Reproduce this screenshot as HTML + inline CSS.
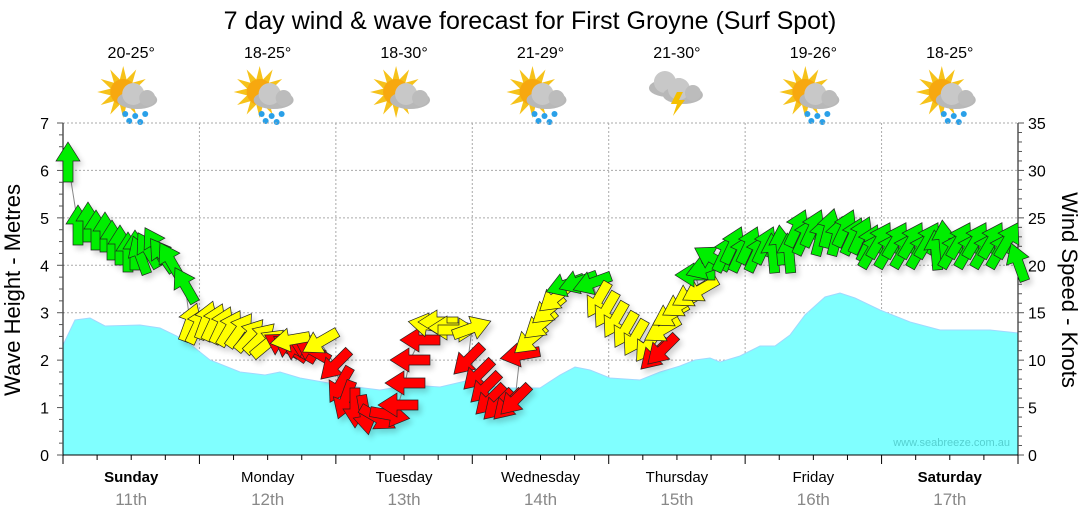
<!DOCTYPE html>
<html><head><meta charset="utf-8"><style>
body{margin:0;background:#fff;}
svg text{font-family:"Liberation Sans",sans-serif;}
</style></head><body>
<svg id="s" width="1080" height="522" viewBox="0 0 1080 522" xmlns="http://www.w3.org/2000/svg">
<defs>
<filter id="sh" x="-50%" y="-50%" width="200%" height="200%"><feGaussianBlur in="SourceAlpha" stdDeviation="3"/><feOffset dx="3" dy="4"/><feComponentTransfer><feFuncA type="linear" slope="0.18"/></feComponentTransfer><feMerge><feMergeNode/><feMergeNode in="SourceGraphic"/></feMerge></filter>
<g id="sun"><g fill="#f6c21a">
<polygon points="0,-26 4,-10 -4,-10"/><polygon points="0,-26 4,-10 -4,-10" transform="rotate(30)"/><polygon points="0,-26 4,-10 -4,-10" transform="rotate(60)"/><polygon points="0,-26 4,-10 -4,-10" transform="rotate(90)"/><polygon points="0,-26 4,-10 -4,-10" transform="rotate(-30)"/><polygon points="0,-26 4,-10 -4,-10" transform="rotate(-60)"/><polygon points="0,-26 4,-10 -4,-10" transform="rotate(-90)"/><polygon points="0,-26 4,-10 -4,-10" transform="rotate(-120)"/><polygon points="0,-26 4,-10 -4,-10" transform="rotate(120)"/><polygon points="0,-26 4,-10 -4,-10" transform="rotate(150)"/><polygon points="0,-26 4,-10 -4,-10" transform="rotate(180)"/><polygon points="0,-26 4,-10 -4,-10" transform="rotate(-150)"/></g>
<circle r="13" fill="#f7a80f"/></g>
<g id="cloud"><ellipse cx="0" cy="0" rx="20" ry="9" fill="#b8b8b8"/><circle cx="-4" cy="-6" r="11" fill="#c8c8c8"/><circle cx="10" cy="-2" r="8" fill="#bcbcbc"/></g>
<g id="drops" fill="#2aa0e8"><circle cx="-10" cy="10" r="3"/><circle cx="0" cy="12" r="3"/><circle cx="10" cy="10" r="3"/><circle cx="-6" cy="17" r="3"/><circle cx="5" cy="18" r="3"/></g>
</defs>
<text x="530" y="29" font-size="25" text-anchor="middle" fill="#000">7 day wind &amp; wave forecast for First Groyne (Surf Spot)</text>
<g id="hdr" font-size="16" text-anchor="middle" fill="#000"></g>
<g id="grid"></g>
<polygon id="wave" fill="#80ffff" stroke="#a0d8ff" stroke-width="1"/>
<text x="1010" y="446" font-size="11" fill="#55d0d0" text-anchor="end">www.seabreeze.com.au</text>
<g id="axes"></g>
<polyline id="wl" fill="none" stroke="#888" stroke-width="1"/>
<g id="arr" filter="url(#sh)"></g>
<text transform="translate(20,290) rotate(-90)" font-size="22" text-anchor="middle">Wave Height - Metres</text>
<text transform="translate(1062,290) rotate(90)" font-size="22" text-anchor="middle">Wind Speed - Knots</text>
</svg>
<script>
var NS="http://www.w3.org/2000/svg";
function el(p,t,a,txt){var e=document.createElementNS(NS,t);for(var k in a)e.setAttribute(k,a[k]);if(txt!=null)e.textContent=txt;p.appendChild(e);return e;}
var L=63,R=1018,T=123,B=455,dw=(R-L)/7;
var grid=document.getElementById('grid'),axes=document.getElementById('axes'),hdr=document.getElementById('hdr');
for(var i=1;i<7;i++){el(grid,'line',{x1:L+i*dw,x2:L+i*dw,y1:T,y2:B,stroke:'#aaa','stroke-dasharray':'2,2'});}
for(var v=1;v<=7;v++){var y=B-v*(B-T)/7;el(grid,'line',{x1:L,x2:R,y1:y,y2:y,stroke:'#aaa','stroke-dasharray':'2,2'});}
el(axes,'line',{x1:L,x2:L,y1:T,y2:B,stroke:'#000'});
el(axes,'line',{x1:R,x2:R,y1:T,y2:B,stroke:'#000'});
el(axes,'line',{x1:L,x2:R,y1:B,y2:B,stroke:'#000'});
for(var k=0;k<=35;k++){var y=B-k*(B-T)/35;var maj=k%5==0;
 el(axes,'line',{x1:R,x2:R+(maj?6:4),y1:y,y2:y,stroke:'#555'});
 if(maj)el(axes,'text',{x:R+10,y:y+6,'font-size':16},k);}
for(var k=0;k<=28;k++){var y=B-k*(B-T)/28;var maj=k%4==0;
 el(axes,'line',{x1:L-(maj?6:4),x2:L,y1:y,y2:y,stroke:'#555'});
 if(maj)el(axes,'text',{x:L-14,y:y+6,'font-size':16,'text-anchor':'end'},k/4);}
for(var k=0;k<=28;k++){var x=L+k*dw/4;el(axes,'line',{x1:x,x2:x,y1:B,y2:B+(k%4==0?9:5),stroke:'#000'});}
var days=['Sunday','Monday','Tuesday','Wednesday','Thursday','Friday','Saturday'];
var temps=['20-25°','18-25°','18-30°','21-29°','21-30°','19-26°','18-25°'];
for(var i=0;i<7;i++){var cx=L+(i+0.5)*dw;
 el(axes,'text',{x:cx,y:482,'font-size':15,'text-anchor':'middle','font-weight':(i==0||i==6)?'bold':'normal'},days[i]);
 el(axes,'text',{x:cx,y:505,'font-size':17,'text-anchor':'middle',fill:'#888'},(11+i)+'th');
 el(hdr,'text',{x:cx,y:58},temps[i]);
 if(i==4){el(hdr,'use',{href:'#cloud',x:cx-8,y:88});el(hdr,'use',{href:'#cloud',x:cx+6,y:95});
  el(hdr,'polygon',{points:(cx)+',92 '+(cx-6)+',104 '+(cx)+',104 '+(cx-4)+',116 '+(cx+8)+',100 '+(cx+2)+',100 '+(cx+6)+',92',fill:'#f5c000'});}
 else{el(hdr,'use',{href:'#sun',x:cx-8,y:92});el(hdr,'use',{href:'#cloud',x:cx+6,y:100});if(i!=2)el(hdr,'use',{href:'#drops',x:cx+4,y:104});}
}
var wp=[[63,345],[75,320],[90,318],[105,326],[140,325],[160,328],[185,340],[210,360],[240,372],[265,375],[280,372],[300,378],[340,385],[380,390],[410,385],[440,387],[470,380],[500,388],[540,388],[560,375],[575,367],[590,370],[610,378],[640,380],[660,372],[680,366],[695,360],[710,358],[720,362],[740,356],[760,346],[775,346],[790,335],[805,315],[825,297],[840,293],[855,298],[880,310],[910,322],[940,330],[965,330],[990,330],[1018,333]];
document.getElementById('wave').setAttribute('points',wp.map(p=>p.join(',')).join(' ')+' 1018,455 63,455');
var g='#00ee00',yl='#ffff00',r='#ff0000';
var A=[[68,162,0,g],[78,225,0,g],[88,222,0,g],[96,230,0,g],[105,232,0,g],[112,240,0,g],[120,245,0,g],[128,252,0,g],[135,250,0,g],[140,255,-20,g],[148,250,-30,g],[155,245,-30,g],[162,255,-35,g],[170,260,-30,g],[185,285,-30,g],
[190,322,20,yl],[198,325,25,yl],[206,320,20,yl],[214,322,25,yl],[222,325,25,yl],[230,328,30,yl],[240,330,35,yl],[250,335,40,yl],[260,338,45,yl],[268,343,50,yl],
[282,345,-60,r],[290,348,-55,r],[298,350,-60,r],[306,347,-65,r],[312,350,-60,r],[290,340,-100,yl],[320,342,-120,yl],
[335,365,225,r],[340,385,210,r],[345,400,200,r],[355,408,180,r],[365,415,170,r],[378,418,120,r],[390,415,100,r],[398,405,-90,r],[405,383,-90,r],[410,360,-90,r],[420,340,-90,r],
[428,325,-80,yl],[438,322,-90,yl],[448,328,-90,yl],[458,330,90,yl],[472,328,70,yl],
[468,360,225,r],[478,375,225,r],[485,388,225,r],[490,400,225,r],[498,405,225,r],[508,405,225,r],[515,400,225,r],
[520,355,260,r],[530,340,230,yl],[540,325,230,yl],[548,310,230,yl],[555,298,230,yl],[565,285,250,g],[578,282,250,g],[592,283,250,g],
[598,300,210,yl],[606,310,210,yl],[615,320,210,yl],[625,330,210,yl],[635,338,210,yl],[648,345,215,yl],
[655,355,225,r],[662,350,225,r],[662,330,240,yl],[670,315,240,yl],[680,305,240,yl],[690,295,240,yl],[700,290,240,yl],[695,275,-90,g],[705,268,-110,g],[712,258,-60,g]];
for(var x=725;x<870;x+=8){var yy=x<790?245:(x<860?228:235);yy+=(Math.round(x/8)%2)*8;A.push([x,yy,x<790&&x>770?-5:(x>820&&x<845?15:25),g]);}
for(var x=872;x<1012;x+=8){var yy=240+(Math.round(x/8)%2)*10;A.push([x,yy,(x>930&&x<945)?-5:30,g]);}
A.push([1018,262,-20,g]);
document.getElementById('wl').setAttribute('points',A.map(a=>a[0]+','+a[1]).join(' '));
var arr=document.getElementById('arr');
A.forEach(function(a){el(arr,'polygon',{points:'0,-20 12,-1 5,-1 5,20 -5,20 -5,-1 -12,-1',fill:a[3],stroke:'#222','stroke-width':0.7,transform:'translate('+a[0]+','+a[1]+') rotate('+a[2]+')'});});
</script>
</body></html>
